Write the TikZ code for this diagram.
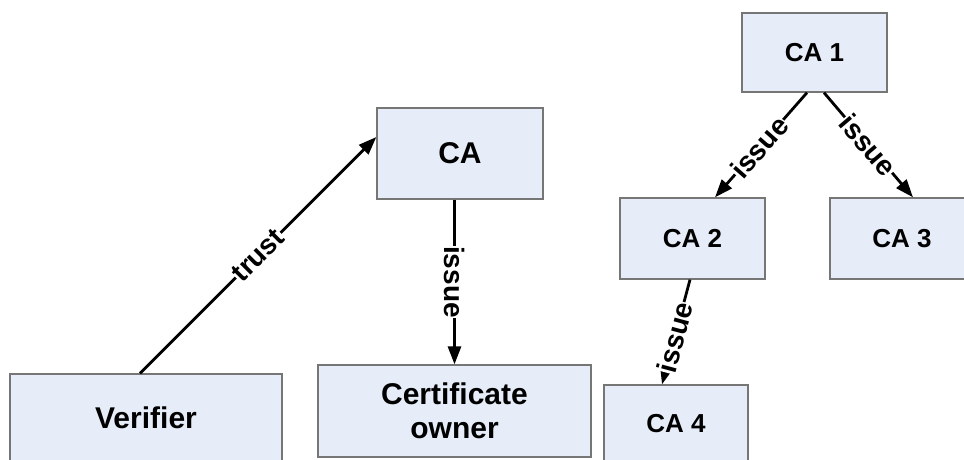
\documentclass[tikz,border=0pt]{standalone}
\usepackage{fontspec}
\setmainfont{Liberation Sans}
\usetikzlibrary{arrows.meta}

\definecolor{boxfill}{HTML}{E7EDF8}
\definecolor{boxedge}{HTML}{767676}
\definecolor{boxshade}{HTML}{2A2A2A}

\begin{document}
\begin{tikzpicture}[x=1pt,y=-1pt,
  box/.style={draw=boxedge, fill=boxfill, line width=1.3pt, align=center,
    inner sep=0pt, font=\bfseries\fontsize{30}{34}\selectfont,
    append after command={[draw=boxshade, line width=1.1pt, line cap=rect]
      ([xshift=1pt,yshift=-1pt]\tikzlastnode.north east)
      -- ([xshift=1pt,yshift=-1pt]\tikzlastnode.south east)
      -- ([xshift=1pt,yshift=-1pt]\tikzlastnode.south west)}},
  small/.style={font=\bfseries\fontsize{26}{30}\selectfont},
  conn/.style={line width=2.8pt, -{Triangle[length=18pt,width=13pt]}},
  lbl/.style={fill=white, inner sep=0.5pt, font=\bfseries\fontsize{28}{28}\selectfont}
]
\clip (0,0) rectangle (964,459);
\fill[white] (0,0) rectangle (964,459);

% left part: verifier trusts the CA, the CA issues to the owner
\node[box, minimum width=272pt, minimum height=88pt] (verifier) at (146,418) {Verifier};
\node[box, minimum width=166pt, minimum height=91pt] (ca) at (460,153.5) {CA};
\node[box, minimum width=273pt, minimum height=92pt] (owner) at (454.5,411) {Certificate\\owner};

% right part: a hierarchy of CAs
\node[box, small, minimum width=145pt, minimum height=79pt] (ca1) at (814.5,52.5) {CA 1};
\node[box, small, minimum width=145pt, minimum height=81pt] (ca2) at (692.5,238.5) {CA 2};
\node[box, small, minimum width=144pt, minimum height=81pt] (ca3) at (902,238.5) {CA 3};
\node[box, small, minimum width=144pt, minimum height=78pt] (ca4) at (676,424) {CA 4};

% connectors
\draw[conn] ([xshift=-6pt]verifier.north) -- node[lbl, sloped, pos=0.5] {trust} ([yshift=16.5pt]ca.west);
\draw[conn] (owner.north |- ca.south) -- node[lbl, rotate=-90, pos=0.5] {issue} (owner.north);
\draw[conn] ([xshift=-7.5pt]ca1.south) -- node[lbl, sloped, pos=0.52] {issue} ([xshift=22.5pt]ca2.north);
\draw[conn] ([xshift=9.5pt]ca1.south) -- node[lbl, sloped, pos=0.5] {issue} ([xshift=11pt]ca3.north);
\draw[conn] ([xshift=-2.5pt]ca2.south) -- node[lbl, sloped, pos=0.55] {issue} ([xshift=-14pt]ca4.north);
\end{tikzpicture}
\end{document}
